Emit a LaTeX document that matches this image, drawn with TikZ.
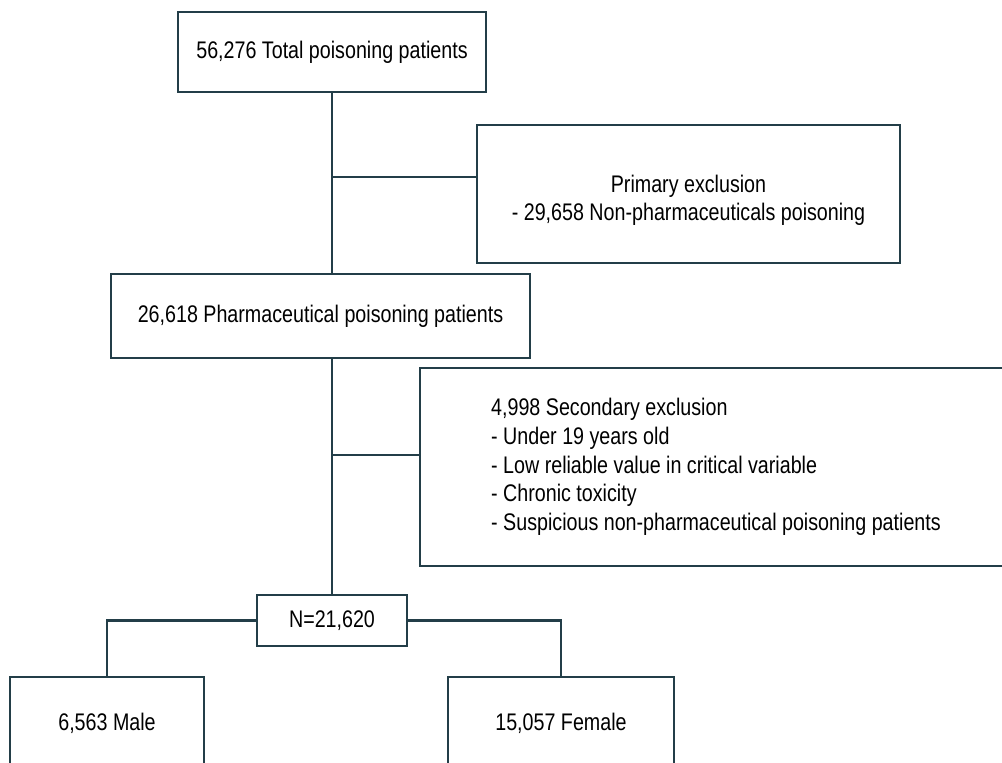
\documentclass[tikz,border=0pt]{standalone}
\usepackage{fontspec}
\setmainfont{Liberation Sans}[FakeStretch=0.82]
\definecolor{ln}{RGB}{35,62,72}
\begin{document}
\begin{tikzpicture}[x=1pt,y=-1pt,
  box/.style={draw=ln,line width=2.2pt,rectangle,inner sep=0pt,fill=white,
    font=\fontsize{24}{28.7}\selectfont,text=black},
  conn/.style={draw=ln,line width=2.2pt}]
\useasboundingbox (0,0) rectangle (1002,763);
\clip (0,0) rectangle (1002,763);
\fill[white] (0,0) rectangle (1002,763);
\node[box,minimum width=308pt,minimum height=80pt] (b1) at (332,52) {56,276 Total poisoning patients};
\node[box,minimum width=423pt,minimum height=138pt,align=center] (b2) at (688.5,194) {\rule{0pt}{30pt}Primary exclusion\\- 29,658 Non-pharmaceuticals poisoning};
\node[box,minimum width=419pt,minimum height=84pt] (b3) at (320.5,316) {26,618 Pharmaceutical poisoning patients};
\node[box,minimum width=592pt,minimum height=198pt,align=left] (b4) at (716,467) {4,998 Secondary exclusion\\- Under 19 years old\\- Low reliable value in critical variable\\- Chronic toxicity\\- Suspicious non-pharmaceutical poisoning patients};
\node[box,minimum width=150pt,minimum height=51pt] (n) at (332,620.5) {N=21,620};
\node[box,minimum width=194pt,minimum height=92pt] (m) at (107,723) {6,563 Male};
\node[box,minimum width=226pt,minimum height=92pt] (f) at (561,723) {15,057 Female};
\coordinate (j1) at (332,177);
\coordinate (j2) at (332,455);
\draw[conn] (b1.south) -- (b1.south |- b3.north);
\draw[conn] (j1) -- (j1 -| b2.west);
\draw[conn] (b1.south |- b3.south) -- (n.north);
\draw[conn] (j2) -- (j2 -| b4.west);
\draw[conn] (n.west) -| (m.north);
\draw[conn] (n.east) -| (f.north);
\end{tikzpicture}
\end{document}
